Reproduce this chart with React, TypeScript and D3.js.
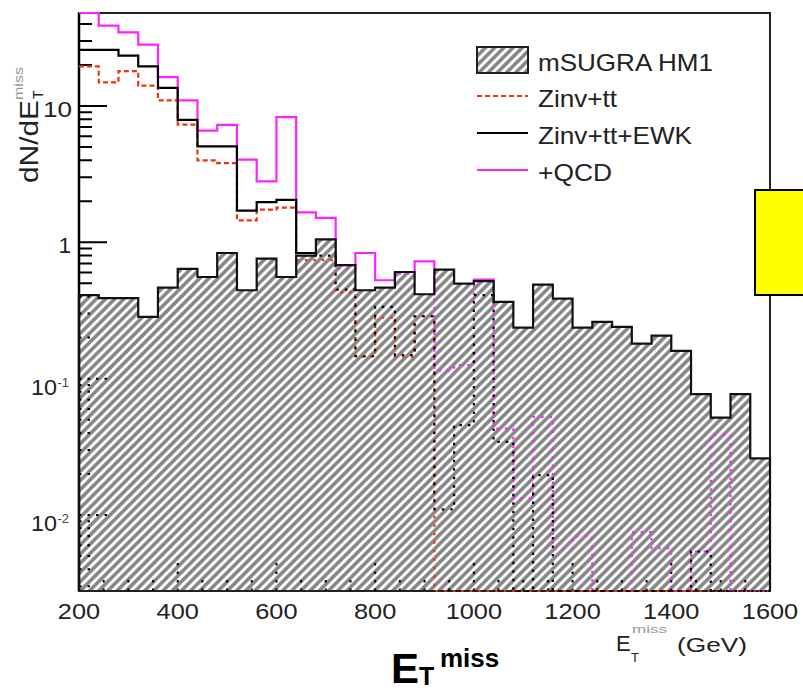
import React from "react";
import * as d3 from "d3";

// ---------- data (35 bins of 40 GeV, 200-1600 GeV) ----------
const binEdges: number[] = d3.range(200, 1601, 40);
const signalHM1 = [0.41, 0.39, 0.39, 0.284, 0.466, 0.638, 0.557, 0.835, 0.445, 0.76, 0.557, 0.8, 1.05, 0.68, 0.445, 0.466, 0.606, 0.416, 0.63, 0.498, 0.52, 0.366, 0.237, 0.49, 0.387, 0.237, 0.261, 0.24, 0.181, 0.207, 0.16, 0.077, 0.0517, 0.077, 0.026];
const zinvTT = [19.5, 14.9, 18.0, 14.1, 11.0, 7.3, 3.99, 3.81, 1.45, 1.74, 1.8, 0.74, 0.74, 0.43, 0.145, 0.28, 0.145, 0.287, 0, 0, 0, 0, 0, 0, 0, 0, 0, 0, 0, 0, 0, 0, 0, 0, 0];
const zinvTTEWK = [25.8, 25.8, 23.4, 19.5, 13.6, 7.9, 5.05, 5.05, 1.71, 1.97, 2.05, 0.835, 0.8, 0.45, 0.146, 0.336, 0.149, 0.287, 0.011, 0.0457, 0.41, 0.0344, 0, 0.0196, 0, 0, 0, 0, 0, 0, 0, 0.0054, 0, 0, 0];
const plusQCD = [55, 38.9, 34.7, 28.2, 16.3, 11.0, 6.6, 7.28, 4.04, 2.8, 8.28, 1.66, 1.51, 0.64, 0.835, 0.527, 0.59, 0.726, 0.115, 0.126, 0.533, 0.043, 0.0133, 0.0525, 0.0057, 0.007, 0, 0, 0.0075, 0.0057, 0, 0.0054, 0.039, 0, 0];
const xTickLabels = [200, 400, 600, 800, 1000, 1200, 1400, 1600];
const yMajorTicks = [0.01, 0.1, 1, 10];
const legendLabels = ["mSUGRA HM1", "Zinv+tt", "Zinv+tt+EWK", "+QCD"];

// ---------- layout ----------
const W = 803;
const H = 691;
const L = 79, R = 770, T = 13, B = 591;
const FONT = "'Liberation Sans', Arial, Helvetica, sans-serif";
const RED = "#ee3311";
const MAG = "#ff22ff";

const x = d3.scaleLinear().domain([200, 1600]).range([L, R]);
const y = d3.scaleLog().domain([0.00277, 48.1]).range([B, T]).clamp(true);
const yy = (v: number) => y(Math.max(v, 1e-7));

type P = [number, number];
const stepPoints = (vals: number[]): P[] => {
  const pts: P[] = vals.map((v, i) => [x(binEdges[i]), yy(v)] as P);
  pts.push([x(binEdges[vals.length]), yy(vals[vals.length - 1])]);
  return pts;
};
const stepLine = d3.line<P>().x(d => d[0]).y(d => d[1]).curve(d3.curveStepAfter);

const sigPts = stepPoints(signalHM1);
const sigOutline = stepLine([[x(200), B], ...sigPts, [x(1600), B]]) as string;
const extPts: P[] = [[x(200) - 20, sigPts[0][1]], ...sigPts, [x(1600) + 20, sigPts[sigPts.length - 1][1]]];
const sigFill = d3.area<P>().x(d => d[0]).y0(B).y1(d => d[1]).curve(d3.curveStepAfter)(sigPts) as string;
const outsideClip = d3.area<P>().x(d => d[0]).y0(0).y1(d => d[1]).curve(d3.curveStepAfter)(extPts) as string;
const insideClip = d3.area<P>().x(d => d[0]).y0(H).y1(d => d[1]).curve(d3.curveStepAfter)(extPts) as string;

const yMinorTicks: number[] = [];
for (let e = -3; e <= 1; e++) {
  for (let k = 2; k <= 9; k++) {
    const v = k * Math.pow(10, e);
    if (v >= y.domain()[0] && v <= y.domain()[1]) yMinorTicks.push(v);
  }
}
const xMinorTicks = d3.range(200, 1601, 50).filter(v => v % 200 !== 0);
const xMajorTicks = d3.range(200, 1601, 200);

function BgLayer({ dotted }: { dotted: boolean }) {
  const dot = dotted ? "2.5,6" : undefined;
  return (
    <g>
      {yMajorTicks.map(v => (
        <line key={"ym" + v} x1={L} x2={L + 28} y1={y(v)} y2={y(v)} stroke="#000" strokeWidth={2} strokeDasharray={dot} />
      ))}
      {yMinorTicks.map(v => (
        <line key={"yn" + v} x1={L} x2={L + 13} y1={y(v)} y2={y(v)} stroke="#000" strokeWidth={2} strokeDasharray={dot} />
      ))}
      {xMajorTicks.map(v => (
        <line key={"xm" + v} x1={x(v)} x2={x(v)} y1={B} y2={B - 28} stroke="#000" strokeWidth={2} strokeDasharray={dot} />
      ))}
      {xMinorTicks.map(v => (
        <line key={"xn" + v} x1={x(v)} x2={x(v)} y1={B} y2={B - 14} stroke="#000" strokeWidth={2} strokeDasharray={dot} />
      ))}
      <path d={stepLine(stepPoints(plusQCD)) as string} fill="none" stroke={MAG} strokeWidth={2.2} strokeDasharray={dot} />
      <path d={stepLine(stepPoints(zinvTT)) as string} fill="none" stroke={RED} strokeWidth={2.2} strokeDasharray={dotted ? dot : "5,3"} />
      <path d={stepLine(stepPoints(zinvTTEWK)) as string} fill="none" stroke="#000" strokeWidth={2.2} strokeDasharray={dot} />
    </g>
  );
}

export default function App() {
  const legendCenters = [60, 96, 133, 170];
  const legendWidths = [175, 79, 154, 74];
  return (
    <svg width={W} height={H} style={{ position: "absolute", left: 0, top: 0, display: "block", background: "#fff" }} fontFamily={FONT}>
      <defs>
        <pattern id="hatch" patternUnits="userSpaceOnUse" width={6.5} height={6.5} patternTransform="rotate(45)">
          <rect width={6.5} height={6.5} fill="#858585" />
          <line x1={3.25} y1={0} x2={3.25} y2={6.5} stroke="#fff" strokeWidth={3} />
        </pattern>
        <clipPath id="outside"><path d={outsideClip} /></clipPath>
        <clipPath id="inside"><path d={insideClip} /></clipPath>
      </defs>
      <rect width={W} height={H} fill="#fff" />

      {/* signal fill */}
      <path d={sigFill} fill="url(#hatch)" />
      {/* frame */}
      <rect x={L} y={T} width={R - L} height={B - T} fill="none" stroke="#222" strokeWidth={2} />
      <line x1={L} x2={L} y1={T} y2={B} stroke="#000" strokeWidth={2.5} />

      <g clipPath="url(#outside)"><BgLayer dotted={false} /></g>
      <g clipPath="url(#inside)"><BgLayer dotted={true} /></g>

      <path d={sigOutline} fill="none" stroke="#111" strokeWidth={2.2} />

      {/* y tick labels */}
      <text x={72} y={y(10) + 11} fontSize={22.5} textAnchor="end" fill="#222" textLength={29} lengthAdjust="spacingAndGlyphs">10</text>
      <text x={71} y={y(1) + 11} fontSize={22.5} textAnchor="end" fill="#222">1</text>
      {[0.1, 0.01].map((v, i) => (
        <g key={"yl" + v}>
          <text x={57} y={y(v) + 16} fontSize={22.5} textAnchor="end" fill="#222" textLength={26} lengthAdjust="spacingAndGlyphs">10</text>
          <text x={57.5} y={y(v) + 8} fontSize={13} fill="#444">{i === 0 ? "-1" : "-2"}</text>
        </g>
      ))}

      {/* x tick labels */}
      {xTickLabels.map(v => (
        <text key={"xl" + v} x={x(v)} y={619} fontSize={22} textAnchor="middle" fill="#222"
          textLength={String(v).length * 14.1} lengthAdjust="spacingAndGlyphs">{v}</text>
      ))}

      {/* y axis title */}
      <g transform="translate(38,183) rotate(-90)" fill="#222">
        <text x={0} y={0} fontSize={25} textLength={83} lengthAdjust="spacingAndGlyphs">dN/dE</text>
        <text x={84} y={5} fontSize={14}>T</text>
        <text x={83} y={-15} fontSize={13} fill="#999" textLength={33} lengthAdjust="spacingAndGlyphs">miss</text>
      </g>

      {/* x axis title */}
      <g fill="#222">
        <text x={616} y={651} fontSize={22}>E</text>
        <text x={631} y={662} fontSize={13}>T</text>
        <text x={632} y={633} fontSize={11} fill="#999" textLength={35} lengthAdjust="spacingAndGlyphs">miss</text>
        <text x={677} y={652} fontSize={20} textLength={70} lengthAdjust="spacingAndGlyphs">(GeV)</text>
      </g>

      {/* big bold title */}
      <g fill="#000" fontWeight="bold">
        <text x={391} y={683} fontSize={42}>E</text>
        <text x={419} y={685} fontSize={25}>T</text>
        <text x={440} y={667} fontSize={26}>miss</text>
      </g>

      {/* legend */}
      <rect x={477} y={47} width={51} height={26} fill="url(#hatch)" stroke="#222" strokeWidth={2} />
      <line x1={477} x2={528} y1={legendCenters[1]} y2={legendCenters[1]} stroke={RED} strokeWidth={2.2} strokeDasharray="5,3" />
      <line x1={477} x2={528} y1={legendCenters[2]} y2={legendCenters[2]} stroke="#000" strokeWidth={2.2} />
      <line x1={477} x2={528} y1={legendCenters[3]} y2={legendCenters[3]} stroke={MAG} strokeWidth={2.2} />
      {legendLabels.map((s, i) => (
        <text key={s} x={538} y={legendCenters[i] + 11} fontSize={24} fill="#222"
          textLength={legendWidths[i]} lengthAdjust="spacingAndGlyphs">{s}</text>
      ))}

      {/* yellow box */}
      <rect x={755} y={190} width={60} height={105} fill="#ffff00" stroke="#000" strokeWidth={2} />
    </svg>
  );
}
